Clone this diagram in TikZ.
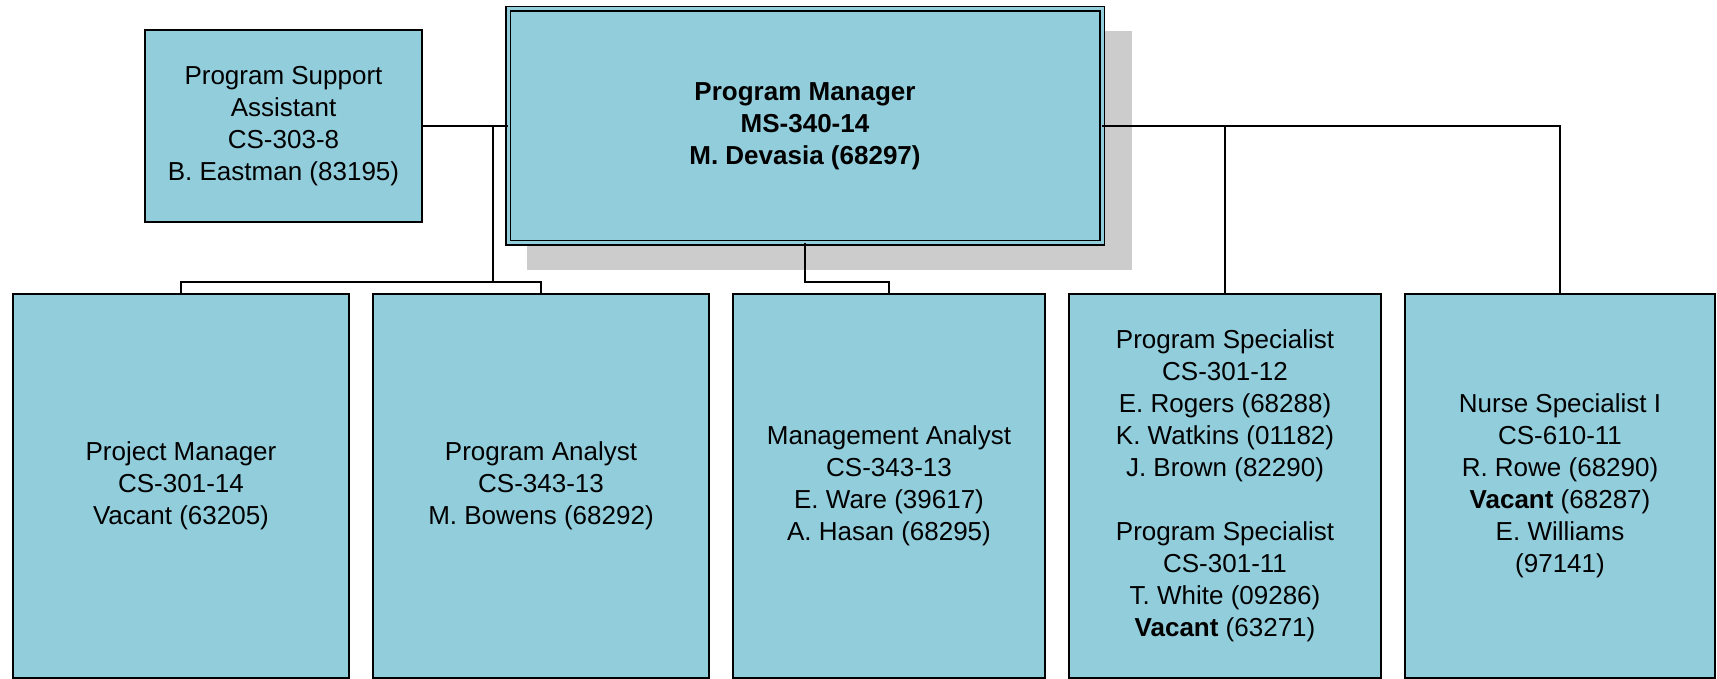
\documentclass[tikz,border=0pt]{standalone}
\usepackage{fontspec}
\setmainfont{Liberation Sans}
\usepackage{tikz}
\usetikzlibrary{positioning,shadows}
\definecolor{orgaqua}{RGB}{146,205,220}
\definecolor{orgshade}{RGB}{204,204,204}

\begin{document}
\begin{tikzpicture}[
  x=0.5pt, y=-0.5pt,
  font=\fontsize{13}{16}\selectfont,
  node distance=12pt,
  box/.style={draw, fill=orgaqua, line width=0.7pt, align=center,
              inner sep=2pt, outer sep=0pt},
  staff/.style={box, minimum width=156pt, minimum height=192pt},
  wide/.style={staff, minimum width=168pt},
  chief/.style={box, double=orgaqua, double distance=1.5pt, line width=0.8pt,
                minimum width=297pt, minimum height=117pt, font=\fontsize{13}{16}\selectfont\bfseries,
                drop shadow={shadow xshift=12pt, shadow yshift=-12pt, shadow scale=1.02,
                             fill=orgshade, opacity=1}},
  link/.style={line width=0.6pt}
]
\useasboundingbox (0,0) rectangle (1717,679);

\node[box, minimum width=138.5pt, minimum height=96pt] (asst) at (283.5,126)
  {Program Support\\Assistant\\CS-303-8\\B. Eastman (83195)};
\node[chief] (mgr) at (805,126) {Program Manager\\MS-340-14\\M. Devasia (68297)};

\node[wide] (proj) at (181,486) {Project Manager\\CS-301-14\\Vacant (63205)};
\node[wide, right=of proj] (analyst) {Program Analyst\\CS-343-13\\M. Bowens (68292)};
\node[staff, right=of analyst] (mgmt)
  {Management Analyst\\CS-343-13\\E. Ware (39617)\\A. Hasan (68295)};
\node[staff, right=of mgmt] (spec)
  {Program Specialist\\CS-301-12\\E. Rogers (68288)\\K. Watkins (01182)\\J. Brown (82290)\\[16pt]
   Program Specialist\\CS-301-11\\T. White (09286)\\\textbf{Vacant} (63271)};
\node[staff, minimum width=155pt, right=of spec] (nurse)
  {Nurse Specialist I\\CS-610-11\\R. Rowe (68290)\\\textbf{Vacant} (68287)\\E. Williams\\(97141)};

% branch points
\coordinate (jl) at (493,126);
\coordinate (busl) at (493,282);
\coordinate (busm) at (805,282);

\draw[link] (asst) -- (mgr);
\draw[link] (jl) -- (busl);
\draw[link] (proj.north) |- (busl) -| (analyst.north);
\draw[link] (mgr.south) -- (busm) -| (mgmt.north);
\draw[link] (mgr.east) -| (nurse.north);
\draw[link] (spec.north) |- (mgr.east);

\end{tikzpicture}
\end{document}
